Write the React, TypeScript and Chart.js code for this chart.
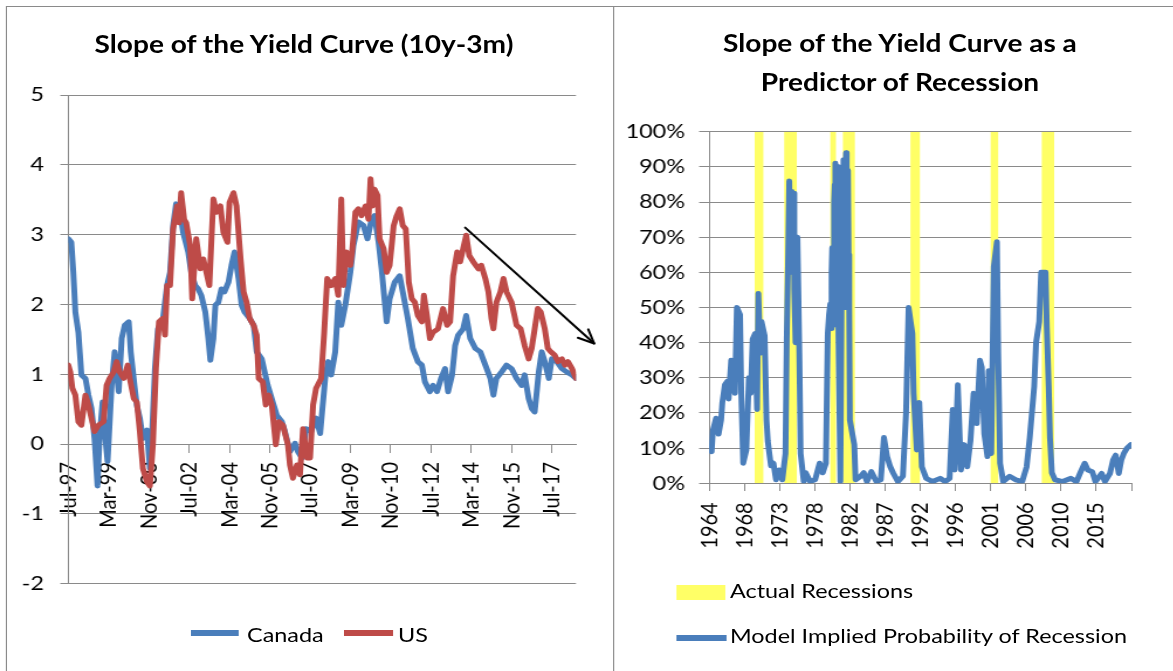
import React, { useEffect, useRef } from 'react';
import { Chart, registerables } from 'chart.js';

Chart.register(...registerables);

// The whole figure is laid out narrow and widened with a horizontal scale.
const STRETCH = 1.17;
const nx = (v: number) => v / STRETCH;

const FONT = 'Lato';
const GRID = '#8a8a8a';
const BLUE = '#4A7EBB';
const RED = '#BE4B48';
const YELLOW = '#FFFF66';
const INK = '#000000';

// ---- Left panel: slope of the yield curve, x = months since Jul-1997 ----
const slopeTickLabels = [
  'Jul-97', 'Mar-99', 'Nov-00', 'Jul-02', 'Mar-04', 'Nov-05', 'Jul-07',
  'Mar-09', 'Nov-10', 'Jul-12', 'Mar-14', 'Nov-15', 'Jul-17',
];

const canadaSlope: [number, number][] = [
  [0, 2.94], [1.5, 2.89], [2.5, 2.46], [3.5, 1.89], [5, 1.6], [6.5, 0.99], [8.5, 0.94], [10, 0.7],
  [11.5, 0.51], [13, 0.08], [14.5, -0.6], [15.5, 0.08], [17, 0.6], [18, 0.2], [19.5, -0.25], [21.5, 0.84],
  [23, 1.32], [25, 0.75], [26.5, 1.51], [28, 1.7], [30, 1.75], [31, 1.32], [33, 0.8], [34, 0.56],
  [35.5, 0.37], [37, 0.08], [39, 0.2], [40, -0.16], [40.5, -0.35], [41.5, 0.1], [43, 1.08], [44.5, 1.65],
  [47, 1.8], [49, 2.27], [50.5, 2.46], [52, 3.13], [53.5, 3.44], [55.5, 3.32], [57, 3.03], [59.5, 2.75],
  [61, 2.46], [63, 2.27], [64.5, 2.22], [66, 2.13], [68, 1.89], [69.5, 1.51], [70.5, 1.2], [72, 1.51],
  [73, 1.99], [74.5, 2.03], [76, 2.22], [77.5, 2.18], [79.5, 2.32], [81, 2.56], [82.5, 2.75], [84.5, 2.37],
  [86, 1.99], [87.5, 1.89], [90, 1.8], [92, 1.7], [93.5, 1.32], [96, 1.22], [97.5, 1.03], [99, 0.84],
  [101.5, 0.6], [103.5, 0.41], [106, 0.32], [107.5, 0.18], [110, -0.11], [112.5, 0.01], [114, -0.11], [116, -0.2],
  [118, 0.22], [120.5, 0.18], [123, 0.37], [125, 0.15], [127.5, 0.94], [129, 1.18], [130.5, 0.99], [132.5, 1.32],
  [134, 2.03], [135.5, 1.7], [137.5, 1.99], [140, 2.46], [141.5, 2.84], [144, 3.18], [146.5, 3.13], [148.5, 2.94],
  [150.5, 3.22], [152, 3.27], [154, 2.89], [155.5, 2.51], [158, 1.75], [159.5, 2.08], [162, 2.32], [164.5, 2.41],
  [166, 2.18], [168.5, 1.8], [171, 1.37], [173.5, 1.18], [175.5, 1.13], [177, 0.89], [179.5, 0.75], [181, 0.84],
  [183, 0.75], [185, 0.94], [187, 1.08], [188.5, 0.75], [190.5, 0.99], [192, 1.41], [193.5, 1.56], [196, 1.65],
  [197.5, 1.84], [199.5, 1.51], [202, 1.37], [204.5, 1.32], [207, 1.13], [209.5, 0.94], [211, 0.7], [212.5, 0.94],
  [215, 1.03], [217.5, 1.13], [220, 1.08], [222.5, 0.94], [225, 0.84], [226.5, 0.99], [228.5, 0.65], [230, 0.51],
  [231.5, 0.46], [233.5, 1.03], [235, 1.32], [236.5, 1.18], [238.5, 0.94], [240, 1.22], [242.5, 1.18], [245, 1.08],
  [247.5, 1.03], [250, 0.99], [252, 0.94],
];

const usSlope: [number, number][] = [
  [0, 1.13], [1, 1.03], [2, 0.8], [3.5, 0.7], [5, 0.32], [6.5, 0.27], [8.5, 0.7], [10, 0.56],
  [11.5, 0.37], [13, 0.18], [15, 0.27], [17.5, 0.32], [19, 0.84], [20.5, 0.94], [22.5, 1.03], [24, 1.18],
  [25.5, 1.03], [27.5, 0.94], [29.5, 1.13], [30.5, 0.94], [32.5, 0.65], [34, 0.6], [35.5, 0.18], [37, -0.35],
  [39, -0.54], [40.5, -0.6], [42, -0.01], [43.5, 1.08], [45, 1.75], [47, 1.8], [48, 1.56], [49, 2.27],
  [50.5, 2.27], [52, 3.08], [54, 3.41], [55, 3.17], [56, 3.6], [57.5, 3.22], [58.5, 3.17], [60.5, 2.84],
  [61.5, 2.08], [63.5, 2.94], [65.5, 2.51], [67, 2.65], [68.5, 2.46], [70, 2.27], [72, 3.51], [73.5, 3.32],
  [75.5, 3.41], [77, 3.03], [79, 2.89], [80, 3.46], [82, 3.6], [83.5, 3.41], [84.5, 3.03], [85.5, 2.65],
  [87, 2.18], [88.5, 2.03], [90, 1.8], [92, 1.7], [93.5, 1.56], [94.5, 0.94], [96.5, 0.89], [98, 0.56],
  [99.5, 0.7], [101, 0.56], [103, -0.01], [104.5, 0.32], [106.5, 0.27], [109, -0.01], [110, -0.3], [111.5, -0.49],
  [113.5, -0.3], [115, -0.44], [116.5, 0.22], [118.5, -0.2], [120, -0.2], [121.5, 0.56], [123, 0.8], [125.5, 0.94],
  [127, 1.6], [128.5, 2.37], [130.5, 2.27], [132.5, 2.37], [134, 2.13], [135.5, 3.51], [136.5, 2.27], [138, 2.75],
  [140, 2.56], [141, 2.8], [142.5, 3.32], [144, 3.37], [145.5, 3.27], [147.5, 3.41], [149, 3.22], [150, 3.8],
  [151, 3.41], [152, 3.65], [153.5, 3.56], [154.5, 2.94], [156.5, 2.8], [158, 2.46], [159.5, 2.56], [161.5, 3.13],
  [163, 3.27], [164.5, 3.37], [166, 3.13], [167.5, 3.08], [169, 2.32], [170.5, 2.08], [172, 2.03], [173.5, 1.84],
  [175.5, 1.75], [176.5, 2.13], [178, 1.84], [179.5, 1.51], [181, 1.6], [183.5, 1.65], [186, 1.94], [188, 1.7],
  [189.5, 1.75], [191, 2.41], [193, 2.75], [194.5, 2.61], [196, 2.8], [197.5, 2.99], [199, 2.7], [201, 2.61],
  [203.5, 2.51], [205, 2.56], [207, 2.37], [208.5, 2.18], [210, 1.8], [211, 1.65], [212.5, 2.03], [214.5, 2.18],
  [216, 2.37], [217.5, 2.18], [220, 2.03], [222.5, 1.7], [224.5, 1.65], [226.5, 1.41], [228.5, 1.22], [230, 1.37],
  [231.5, 1.65], [233, 1.94], [234.5, 1.89], [236.5, 1.65], [238, 1.37], [239.5, 1.32], [241.5, 1.27], [243, 1.18],
  [245, 1.22], [246.5, 1.13], [248, 1.18], [250, 1.08], [252, 0.94],
];

// Downward trend arrow, in data units (month, spread)
const trendArrowFrom: [number, number] = [197, 3.1];
const trendArrowTo: [number, number] = [261, 1.44];

// ---- Right panel: recession probability, x = months since Jan-1964 ----
const yearTickLabels = [
  '1964', '1968', '1973', '1978', '1982', '1987', '1992', '1996', '2001', '2006', '2010', '2015',
];

const recessionSpans: [string, string][] = [
  ['1970-01', '1971-02'],
  ['1973-12', '1975-07'],
  ['1980-01', '1980-09'],
  ['1981-09', '1983-03'],
  ['1990-08', '1991-10'],
  ['2001-03', '2002-02'],
  ['2007-12', '2009-07'],
];

const recessionProbability: [number, number][] = [
  [0, 10], [4, 9], [6, 15], [11, 18.5], [15, 14], [19, 18], [21, 23], [25, 28], [29, 29], [31, 24],
  [35, 35], [39, 34], [41, 25.6], [44, 50], [49, 48], [51, 25.6], [54, 5.7], [59, 9.5], [63, 30], [66, 25.6],
  [69, 41], [73, 42.6], [76, 21], [78, 54], [81, 37], [83, 46], [88, 42], [91, 18], [93, 12], [98, 5],
  [102, 5.7], [106, 1], [111, 3.8], [116, 1], [121, 8.5], [123, 41], [125, 62], [127, 86], [128, 70], [129, 60],
  [130, 78], [131, 83], [132, 65], [134, 82.5], [135, 55], [137, 40], [138, 62], [140, 70], [143, 37], [145, 8.5],
  [150, 0.5], [153, 3], [160, 0.5], [168, 1], [175, 5.7], [180, 3], [185, 5.7], [188, 42.6], [190, 48], [192, 51],
  [193, 44], [194, 60], [195, 67], [196, 52], [197, 45], [198, 80], [199, 85], [200, 91], [201, 70], [202, 60],
  [203, 85], [204, 90], [205, 42], [208, 0.5], [210, 56], [211, 70], [212, 80], [213, 92], [214, 65], [215, 50],
  [216, 85], [217, 94], [218, 75], [219, 70], [220, 89], [221, 65], [222, 50], [223, 18], [230, 11], [232, 1],
  [240, 2], [245, 3], [250, 0.5], [257, 3.3], [265, 0.5], [272, 1], [277, 13], [282, 7.6], [287, 4.7], [292, 2.8],
  [299, 0.5], [307, 2], [312, 20], [316, 50], [322, 42.6], [324, 25.6], [329, 9.5], [333, 23], [337, 4.7], [344, 1.4],
  [354, 0.5], [366, 1.4], [374, 0.5], [381, 1.4], [386, 21], [389, 3.8], [394, 28], [399, 3.8], [404, 11], [409, 4.7],
  [414, 12], [419, 25.6], [424, 17], [429, 35], [432, 33], [436, 14], [441, 7.6], [443, 32], [447, 8.5], [451, 61.6],
  [456, 68.7], [458, 37], [461, 5.7], [466, 0.5], [476, 2], [486, 1], [496, 0.5], [503, 4.7], [508, 13], [515, 27.5],
  [518, 40], [523, 46], [526, 60], [533, 60], [535, 44.5], [538, 27.5], [540, 13], [543, 3], [548, 1], [560, 0.5],
  [573, 1.4], [582, 0.5], [590, 3.8], [595, 5.7], [600, 3.8], [607, 3.3], [612, 0.5], [622, 2.8], [627, 0.5], [635, 2.8],
  [640, 6.6], [644, 8], [649, 2.8], [653, 6.6], [657, 8.5], [662, 10], [668, 11],
];

const monthsSince1964 = (ym: string) => {
  const [y, m] = ym.split('-').map(Number);
  return (y - 1964) * 12 + (m - 1);
};

// Canvas geometry (natural, pre-stretch pixels)
const HEIGHT = 671;
const LEFT_W = Math.round(nx(610));
const RIGHT_X = nx(613);
const RIGHT_W = Math.round(nx(560));
const LINE_W = 5;

const tickFont = { family: FONT, size: 20 };

const trendArrowPlugin = {
  id: 'trendArrow',
  afterDatasetsDraw(chart: any) {
    const { ctx, scales } = chart;
    const x1 = scales.x.getPixelForValue(trendArrowFrom[0]);
    const y1 = scales.y.getPixelForValue(trendArrowFrom[1]);
    const x2 = scales.x.getPixelForValue(trendArrowTo[0]);
    const y2 = scales.y.getPixelForValue(trendArrowTo[1]);
    const ang = Math.atan2(y2 - y1, x2 - x1);
    const head = 15;
    const spread = 0.42;
    ctx.save();
    ctx.strokeStyle = '#000';
    ctx.lineWidth = 2;
    ctx.lineCap = 'round';
    ctx.lineJoin = 'round';
    ctx.beginPath();
    ctx.moveTo(x1, y1);
    ctx.lineTo(x2, y2);
    ctx.stroke();
    ctx.beginPath();
    ctx.moveTo(x2 - head * Math.cos(ang - spread), y2 - head * Math.sin(ang - spread));
    ctx.lineTo(x2, y2);
    ctx.lineTo(x2 - head * Math.cos(ang + spread), y2 - head * Math.sin(ang + spread));
    ctx.stroke();
    ctx.restore();
  },
};

function slopeChart(canvas: HTMLCanvasElement) {
  const line = (label: string, pts: [number, number][], color: string, order: number) => ({
    label,
    data: pts.map(([x, y]) => ({ x, y })),
    borderColor: color,
    backgroundColor: color,
    borderWidth: LINE_W,
    pointRadius: 0,
    tension: 0,
    borderJoinStyle: 'round' as const,
    borderCapStyle: 'round' as const,
    order,
  });
  return new Chart(canvas, {
    type: 'line',
    data: {
      datasets: [line('Canada', canadaSlope, BLUE, 1), line('US', usSlope, RED, 0)],
    },
    options: {
      responsive: false,
      animation: false,
      events: [],
      layout: { padding: { left: 0, right: LEFT_W - nx(576), top: 95, bottom: HEIGHT - 583.6 } },
      plugins: { legend: { display: false }, tooltip: { enabled: false } },
      scales: {
        x: {
          type: 'linear',
          min: 0,
          max: 252,
          position: { y: 0 } as any,
          ticks: {
            stepSize: 20,
            includeBounds: false,
            autoSkip: false,
            maxRotation: 90,
            minRotation: 90,
            padding: 10,
            color: INK,
            font: tickFont,
            callback: (_v: any, i: number) => slopeTickLabels[i] ?? '',
          },
          grid: { display: true, drawOnChartArea: false, drawTicks: true, tickLength: 8, color: GRID },
          border: { display: true, color: GRID },
        },
        y: {
          min: -2,
          max: 5,
          ticks: { stepSize: 1, padding: 14, color: INK, font: tickFont },
          grid: { color: GRID, tickLength: nx(8) },
          border: { display: true, color: GRID },
          afterFit: (s: any) => { s.width = nx(68.3); },
        },
      },
    },
    plugins: [trendArrowPlugin],
  });
}

function probabilityChart(canvas: HTMLCanvasElement) {
  const bands = recessionSpans.flatMap(([a, b]) => {
    const s = monthsSince1964(a);
    const e = monthsSince1964(b) + 1;
    return [{ x: s, y: 0 }, { x: s, y: 100 }, { x: e, y: 100 }, { x: e, y: 0 }];
  });
  return new Chart(canvas, {
    type: 'line',
    data: {
      datasets: [
        {
          label: 'Model Implied Probability of Recession',
          data: recessionProbability.map(([x, y]) => ({ x, y })),
          borderColor: BLUE,
          backgroundColor: BLUE,
          borderWidth: LINE_W,
          pointRadius: 0,
          tension: 0,
          borderJoinStyle: 'round',
          borderCapStyle: 'round',
          order: 0,
        },
        {
          label: 'Actual Recessions',
          data: bands,
          borderWidth: 0,
          borderColor: 'rgba(0,0,0,0)',
          backgroundColor: YELLOW,
          fill: 'origin',
          pointRadius: 0,
          tension: 0,
          order: 1,
        },
      ],
    },
    options: {
      responsive: false,
      animation: false,
      events: [],
      layout: { padding: { left: 0, right: RIGHT_W - nx(1159 - 613), top: 131.7, bottom: HEIGHT - 483.3 } },
      plugins: { legend: { display: false }, tooltip: { enabled: false } },
      scales: {
        x: {
          type: 'linear',
          min: 0,
          max: 669,
          position: { y: 0 } as any,
          ticks: {
            stepSize: 56,
            includeBounds: false,
            autoSkip: false,
            maxRotation: 90,
            minRotation: 90,
            padding: 12,
            color: INK,
            font: tickFont,
            callback: (_v: any, i: number) => yearTickLabels[i] ?? '',
          },
          grid: { display: true, drawOnChartArea: false, drawTicks: true, tickLength: 7, color: GRID },
          border: { display: true, color: GRID },
        },
        y: {
          min: 0,
          max: 100,
          ticks: { stepSize: 10, padding: 12, color: INK, font: tickFont, callback: (v: any) => `${v}%` },
          grid: { color: GRID, tickLength: nx(10) },
          border: { display: true, color: GRID },
          afterFit: (s: any) => { s.width = nx(709 - 613); },
        },
      },
    },
  });
}

const abs = (style: React.CSSProperties): React.CSSProperties => ({
  position: 'absolute',
  whiteSpace: 'nowrap',
  fontFamily: FONT,
  color: INK,
  lineHeight: 1,
  ...style,
});

export default function App() {
  const leftRef = useRef<HTMLCanvasElement>(null);
  const rightRef = useRef<HTMLCanvasElement>(null);

  useEffect(() => {
    const left = slopeChart(leftRef.current!);
    const right = probabilityChart(rightRef.current!);
    return () => {
      left.destroy();
      right.destroy();
    };
  }, []);

  const titleSize = 24;
  const titleFont: React.CSSProperties = { fontSize: titleSize, fontWeight: 700 };
  const legendSize = 20;
  const legendFont: React.CSSProperties = { fontSize: legendSize };
  const base = 0.887;

  return (
    <div
      style={{
        position: 'fixed',
        left: 0,
        top: 0,
        width: nx(1173),
        height: HEIGHT,
        overflow: 'hidden',
        background: '#fff',
        transform: `scaleX(${STRETCH})`,
        transformOrigin: '0 0',
      }}
    >
      {/* panel frames */}
      <div
        style={{
          position: 'absolute',
          left: nx(6),
          top: 6,
          width: nx(612 - 6),
          height: 700,
          border: `1px solid ${GRID}`,
        }}
      />
      <div
        style={{
          position: 'absolute',
          left: nx(612),
          top: 6,
          width: nx(1180 - 612),
          height: 0,
          borderTop: `1px solid ${GRID}`,
        }}
      />

      <canvas
        ref={leftRef}
        width={LEFT_W}
        height={HEIGHT}
        style={{ position: 'absolute', left: 0, top: 0, width: LEFT_W, height: HEIGHT }}
      />
      <canvas
        ref={rightRef}
        width={RIGHT_W}
        height={HEIGHT}
        style={{ position: 'absolute', left: RIGHT_X, top: 0, width: RIGHT_W, height: HEIGHT }}
      />

      {/* titles */}
      <div style={abs({ ...titleFont, left: nx(304) - 250, width: 500, textAlign: 'center', top: 53 - base * titleSize })}>
        Slope of the Yield Curve (10y-3m)
      </div>
      <div
        style={abs({
          ...titleFont,
          left: nx(900) - 250,
          width: 500,
          textAlign: 'center',
          lineHeight: '38.7px',
          top: 53 - ((38.7 - 1.2 * titleSize) / 2 + 0.987 * titleSize),
        })}
      >
        Slope of the Yield Curve as a
        <br />
        Predictor of Recession
      </div>

      {/* left legend */}
      <div style={{ position: 'absolute', left: nx(191), top: 630, width: nx(48), height: 6, background: BLUE }} />
      <div style={abs({ ...legendFont, left: nx(247), top: 642 - base * legendSize })}>Canada</div>
      <div style={{ position: 'absolute', left: nx(344), top: 630, width: nx(49), height: 6, background: RED }} />
      <div style={abs({ ...legendFont, left: nx(398), top: 642 - base * legendSize })}>US</div>

      {/* right legend */}
      <div style={{ position: 'absolute', left: nx(676), top: 585, width: nx(49), height: 15, background: YELLOW }} />
      <div style={abs({ ...legendFont, left: nx(730), top: 598 - base * legendSize })}>Actual Recessions</div>
      <div style={{ position: 'absolute', left: nx(676), top: 635, width: nx(51), height: 6, background: BLUE }} />
      <div style={abs({ ...legendFont, left: nx(730), top: 643 - base * legendSize })}>
        Model Implied Probability of Recession
      </div>
    </div>
  );
}
